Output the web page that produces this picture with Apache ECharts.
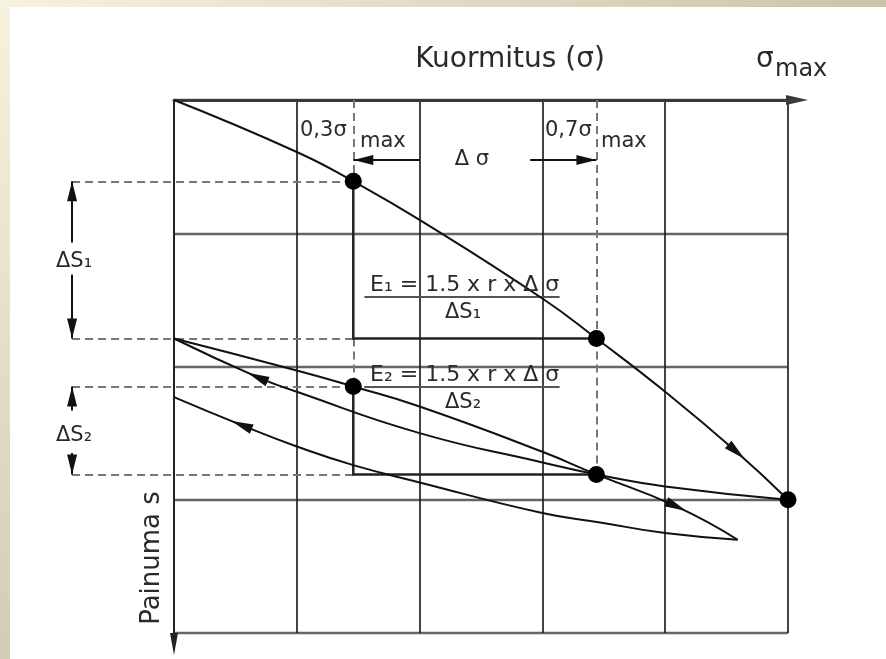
<!DOCTYPE html>
<html>
<head>
<meta charset="utf-8">
<script src="https://cdn.jsdelivr.net/npm/echarts/dist/echarts.min.js"></script>
<style>
  html, body { margin: 0; padding: 0; background: #fff; }
  #main { width: 886px; height: 659px; }
</style>
</head>
<body>
<div id="main"></div>
<script>
// kuormitus σ: 0..σmax jaettu 5 ruutuun, painuma s: 0..4 ruutua alaspäin
const sigmaMax = 5;
const sMax = 4;

// kuormitus- ja palautuskäyrät [σ, s]
const loading1 = [[0, 0], [1.0, 0.39], [1.46, 0.61], [2.0, 0.9], [3.0, 1.49], [3.44, 1.79], [4.0, 2.19], [4.58, 2.64], [5.0, 3.0]];
const unloading1 = [[5.0, 3.0], [4.0, 2.9], [3.44, 2.81], [3.0, 2.72], [2.0, 2.5], [1.0, 2.19], [0.68, 2.08], [0, 1.79]];
const loading2 = [[0, 1.79], [1.0, 2.03], [1.46, 2.15], [2.0, 2.3], [3.0, 2.64], [3.44, 2.81], [4.09, 3.05], [4.59, 3.3]];
const unloading2 = [[4.59, 3.3], [4.0, 3.25], [3.47, 3.17], [3.0, 3.1], [2.0, 2.87], [1.46, 2.74], [1.0, 2.6], [0.55, 2.44], [0, 2.23]];
const curves = [loading1, unloading1, loading2, unloading2];

// nuolen paikka: [käyrä, pisteen indeksi]
const curveArrows = [[0, 7], [1, 6], [2, 6], [3, 7]];

// mittapisteet 0,3σmax ja 0,7σmax sekä σmax
const keyPoints = [[1.46, 0.61], [3.44, 1.79], [1.46, 2.15], [3.44, 2.81], [5.0, 3.0]];

const sigmaLow = 1.46;   // 0,3σmax
const sigmaHigh = 3.44;  // 0,7σmax
const s1 = [0.61, 1.79]; // ΔS1
const s2 = [2.15, 2.81]; // ΔS2
const guideX = -0.83;    // ΔS-nuolten paikka
const deltaSigmaY = 0.45;

const dashed = [
  [[guideX, s1[0]], [sigmaLow, s1[0]]],
  [[guideX, s1[1]], [sigmaLow, s1[1]]],
  [[guideX, s2[0]], [sigmaLow, s2[0]]],
  [[guideX, s2[1]], [sigmaLow, s2[1]]],
  [[sigmaLow, 0], [sigmaLow, s1[0]]],
  [[sigmaLow, s1[1]], [sigmaLow, s2[0]]],
  [[sigmaHigh, 0], [sigmaHigh, s1[1]]],
  [[sigmaHigh, s1[1]], [sigmaHigh, s2[1]]]
];
const solid = [
  [[sigmaLow, s1[0]], [sigmaLow, s1[1]], [sigmaHigh, s1[1]]],
  [[sigmaLow, s2[0]], [sigmaLow, s2[1]], [sigmaHigh, s2[1]]]
];
const fractionBars = [
  [[1.55, 1.48], [3.14, 1.48]],
  [[1.55, 2.15], [3.14, 2.15]]
];
const dimArrows = [
  [[guideX, 1.07], [guideX, s1[0]]],
  [[guideX, 1.31], [guideX, s1[1]]],
  [[guideX, 2.33], [guideX, s2[0]]],
  [[guideX, 2.65], [guideX, s2[1]]],
  [[2.0, deltaSigmaY], [sigmaLow, deltaSigmaY]],
  [[2.9, deltaSigmaY], [sigmaHigh, deltaSigmaY]]
];

// nuolenkärki, jonka kärki on symbolin keskellä
const arrowHead = "path://M0,0L5,20L-5,20Z M0,-20L0.05,-20L0,-19.95Z";

const font = "DejaVu Sans";
const txt = "#2a2a2a";

function label(x, y, text, size, align) {
  return {
    type: "text", x: x, y: y, z: 50,
    style: { text: text, fontFamily: font, fontSize: size, fill: txt, align: align || "left", verticalAlign: "middle" }
  };
}

const chart = echarts.init(document.getElementById("main"));

let option = {
  backgroundColor: "#fff",
  animation: false,
  grid: { left: 174, top: 100, width: 614, height: 533 },
  xAxis: {
    type: "value", position: "top", min: 0, max: sigmaMax, interval: 1,
    axisLabel: { show: false }, axisTick: { show: false },
    axisLine: {
      onZero: false, symbol: ["none", "triangle"], symbolSize: [10, 22], symbolOffset: [0, 9],
      lineStyle: { color: "#3a3a3a", width: 3 }
    },
    splitLine: { lineStyle: { color: "#222", width: 1.7 } }
  },
  yAxis: {
    type: "value", inverse: true, min: 0, max: sMax, interval: 1,
    axisLabel: { show: false }, axisTick: { show: false },
    axisLine: {
      onZero: false, symbol: ["triangle", "none"], symbolSize: [8, 22], symbolOffset: [-11, 0],
      lineStyle: { color: "#222", width: 2 }
    },
    splitLine: { lineStyle: { color: "#666", width: 2.4 } }
  },
  graphic: [
    // vaalea reunus vasemmalla ja ylhäällä
    { type: "rect", shape: { x: 0, y: 0, width: 886, height: 7 }, style: { fill: new echarts.graphic.LinearGradient(0, 0, 1, 0, [{ offset: 0, color: "#f7f2e0" }, { offset: 1, color: "#cbc4ab" }]) } },
    { type: "rect", shape: { x: 0, y: 0, width: 10, height: 659 }, style: { fill: new echarts.graphic.LinearGradient(0, 0, 0, 1, [{ offset: 0, color: "#f7f2e0" }, { offset: 1, color: "#d3ccb5" }]) } },
    label(510, 60, "Kuormitus (σ)", 28, "center"),
    label(756, 60, "σ", 28),
    label(775, 70, "max", 24),
    label(300, 131, "0,3σ", 21),
    label(360, 142, "max", 21),
    label(545, 131, "0,7σ", 21),
    label(601, 142, "max", 21),
    label(472, 160, "Δ σ", 21, "center"),
    label(56, 262, "ΔS₁", 21),
    label(56, 436, "ΔS₂", 21),
    label(370, 285, "E₁ = 1.5 x r x Δ σ", 22),
    label(463, 313, "ΔS₁", 21, "center"),
    label(370, 375, "E₂ = 1.5 x r x Δ σ", 22),
    label(463, 403, "ΔS₂", 21, "center"),
    {
      type: "text", x: 152, y: 558, rotation: Math.PI / 2, z: 50,
      style: { text: "Painuma s", fontFamily: font, fontSize: 26, fill: txt, align: "center", verticalAlign: "middle" }
    }
  ],
  series: [
    {
      type: "lines", coordinateSystem: "cartesian2d", clip: false, silent: true,
      lineStyle: { color: "#777", width: 2, type: [8, 5], opacity: 1 },
      data: dashed.map(function (c) { return { coords: c }; })
    },
    {
      type: "lines", coordinateSystem: "cartesian2d", polyline: true, clip: false, silent: true,
      lineStyle: { color: "#222", width: 2.5, opacity: 1 },
      data: solid.map(function (c) { return { coords: c }; })
    },
    {
      type: "lines", coordinateSystem: "cartesian2d", clip: false, silent: true,
      lineStyle: { color: "#555", width: 2, opacity: 1 },
      data: fractionBars.map(function (c) { return { coords: c }; })
    },
    {
      type: "lines", coordinateSystem: "cartesian2d", clip: false, silent: true,
      symbol: ["none", arrowHead], symbolSize: [[10, 40], [10, 40]],
      lineStyle: { color: "#111", width: 2, opacity: 1 },
      data: dimArrows.map(function (c) { return { coords: c }; })
    }
  ].concat(curves.map(function (c) {
    return {
      type: "line", data: c, smooth: 0.5, showSymbol: false, clip: false, silent: true,
      lineStyle: { color: "#111", width: 2 }
    };
  })).concat([
    {
      id: "curveArrows", type: "scatter", symbol: "triangle", symbolSize: [10, 22], silent: true,
      itemStyle: { color: "#111", opacity: 1 }, z: 5, data: []
    },
    {
      type: "scatter", symbolSize: 17, silent: true, z: 6,
      itemStyle: { color: "#000", opacity: 1 }, data: keyPoints
    }
  ])
};

chart.setOption(option);

// nuolten suunta käyrän mukaan (naapuripisteistä pikseleinä)
function arrowData() {
  return curveArrows.map(function (a) {
    const pts = curves[a[0]];
    const i = a[1];
    const p0 = chart.convertToPixel({ gridIndex: 0 }, pts[i - 1]);
    const p1 = chart.convertToPixel({ gridIndex: 0 }, pts[i + 1]);
    const ang = Math.atan2(-(p1[1] - p0[1]), p1[0] - p0[0]) * 180 / Math.PI;
    return { value: pts[i], symbolRotate: ang - 90 };
  });
}

chart.setOption({ series: [{ id: "curveArrows", data: arrowData() }] });
</script>
</body>
</html>
